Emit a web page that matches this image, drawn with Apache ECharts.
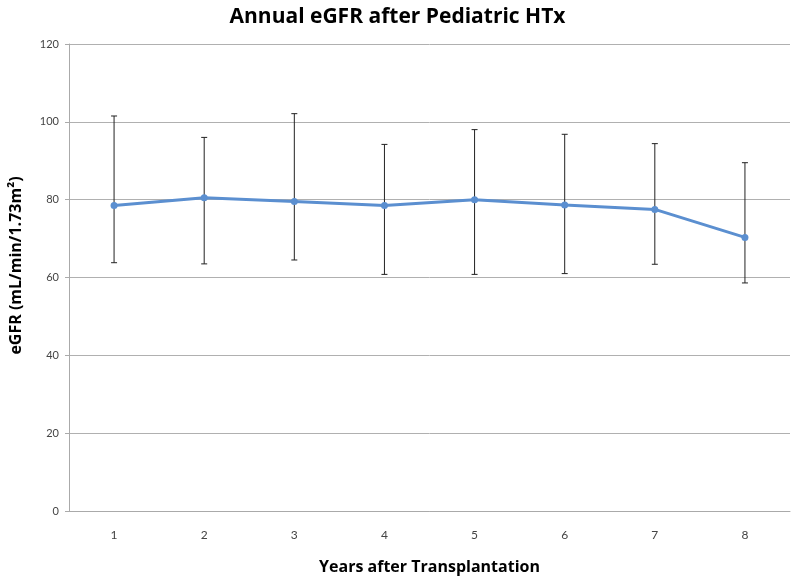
<!DOCTYPE html>
<html>
<head>
<meta charset="utf-8">
<script src="https://cdn.jsdelivr.net/npm/echarts@6/dist/echarts.min.js"></script>
<style>html,body{margin:0;padding:0;background:#fff;}#c{width:795px;height:581px;}</style>
</head>
<body>
<div id="c"></div>
<script>
const years = ['1','2','3','4','5','6','7','8'];
const meanEGFR = [78.5, 80.5, 79.5, 78.5, 80.0, 78.6, 77.5, 70.3];
const upperEGFR = [101.5, 96.0, 102.1, 94.2, 98.0, 96.8, 94.4, 89.5];
const lowerEGFR = [63.8, 63.5, 64.5, 60.8, 60.8, 61.0, 63.4, 58.6];
const yTicks = [0, 20, 40, 60, 80, 100, 120];

const errData = years.map((y, i) => [i, lowerEGFR[i], upperEGFR[i]]);
const chart = echarts.init(document.getElementById('c'), null, {renderer: 'canvas'});
const font = '"Open Sans", Lato, sans-serif';
chart.setOption({
  animation: false,
  title: {
    text: 'Annual eGFR after Pediatric HTx',
    left: 'center', top: 2,
    textStyle: {fontFamily: font, fontSize: 21, fontWeight: 'bold', color: '#000'}
  },
  grid: {left: 66, right: 5, top: 44, bottom: 70},
  xAxis: {
    type: 'category', data: years, boundaryGap: true,
    name: 'Years after Transplantation', nameLocation: 'middle', nameGap: 48,
    nameTextStyle: {fontFamily: font, fontSize: 16, fontWeight: 'bold', color: '#000'},
    axisLine: {show: true, lineStyle: {color: '#aaa'}},
    axisTick: {show: false},
    axisLabel: {fontFamily: 'Lato, sans-serif', fontSize: 12, color: '#444', margin: 18}
  },
  yAxis: {
    type: 'value', min: yTicks[0], max: yTicks[yTicks.length - 1], interval: 20,
    name: 'eGFR (mL/min/1.73m²)', nameLocation: 'middle', nameGap: 45,
    nameTextStyle: {fontFamily: font, fontSize: 16, fontWeight: 'bold', color: '#000', padding: [0, 0, 0, 24]},
    axisLine: {show: true, lineStyle: {color: '#aaa'}},
    axisTick: {show: true, length: 4, lineStyle: {color: '#aaa'}},
    axisLabel: {fontFamily: 'Lato, sans-serif', fontSize: 11, color: '#444', margin: 10},
    splitLine: {lineStyle: {color: '#b0b0b0'}}
  },
  series: [
    {
      type: 'custom',
      data: errData,
      z: 3,
      renderItem: function (params, api) {
        const x = api.value(0);
        const lo = api.coord([x, api.value(1)]);
        const hi = api.coord([x, api.value(2)]);
        const w = 3;
        const st = {stroke: '#222', lineWidth: 1};
        return {
          type: 'group',
          children: [
            {type: 'line', shape: {x1: lo[0], y1: lo[1], x2: hi[0], y2: hi[1]}, style: st},
            {type: 'line', shape: {x1: lo[0] - w, y1: lo[1], x2: lo[0] + w, y2: lo[1]}, style: st},
            {type: 'line', shape: {x1: hi[0] - w, y1: hi[1], x2: hi[0] + w, y2: hi[1]}, style: st}
          ]
        };
      }
    },
    {
      type: 'line',
      data: meanEGFR,
      z: 5,
      symbol: 'circle', symbolSize: 7,
      lineStyle: {color: '#5b8fd0', width: 3},
      itemStyle: {color: '#5b8fd0'}
    }
  ]
});
</script>
</body>
</html>
